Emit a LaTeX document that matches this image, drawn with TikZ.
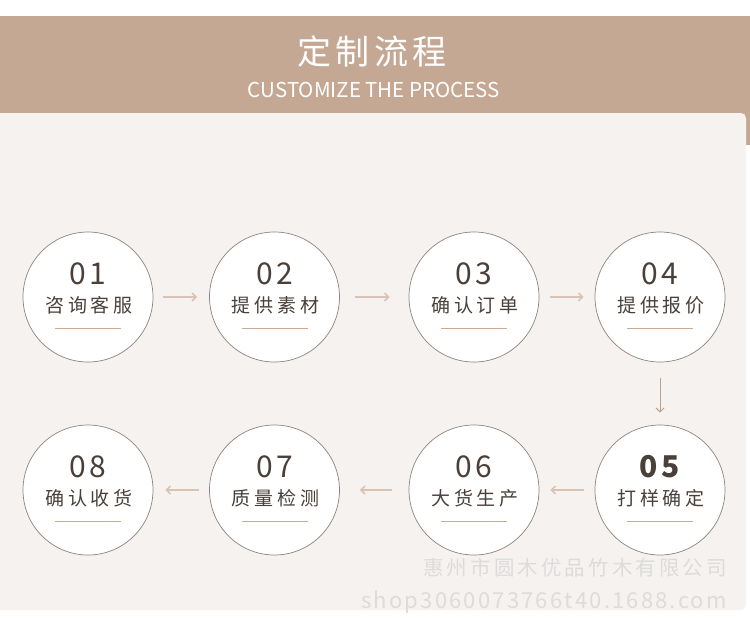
\documentclass[tikz,border=0pt]{standalone}
\usepackage{fontspec}
\setmainfont{Noto Sans CJK SC}
\usetikzlibrary{arrows.meta}
\definecolor{hdr}{HTML}{C4A893}
\definecolor{panel}{HTML}{F6F2EF}
\definecolor{ring}{HTML}{8C8480}
\definecolor{txt}{HTML}{4A4039}
\definecolor{uline}{HTML}{CBAA90}
\definecolor{harr}{HTML}{D8C3B4}
\definecolor{varr}{HTML}{BBA08D}
\definecolor{wm}{HTML}{DCDCDC}
\tikzset{
  stepcircle/.style={circle, draw=ring, line width=0.7pt, fill=white, minimum size=130pt, inner sep=0pt},
  numtxt/.style={text=txt, font=\fontsize{30}{30}\selectfont\addfontfeature{LetterSpace=12}, inner sep=0pt},
  labtxt/.style={text=txt, font=\fontsize{19}{19}\selectfont\addfontfeature{LetterSpace=20}, inner sep=0pt},
  harrow/.style={draw=harr, line width=2pt, -{Straight Barb[length=4pt,width=8pt,line width=1.6pt]}},
  varrow/.style={draw=varr, line width=1pt, -{Straight Barb[length=4pt,width=8pt,line width=1pt]}},
}
\begin{document}
\begin{tikzpicture}[x=1pt,y=-1pt]
\useasboundingbox (0,0) rectangle (750,633);
\fill[white] (0,0) rectangle (750,633);
\fill[hdr] (0,16) rectangle (750,145);
\fill[panel, rounded corners=5pt] (-10,113) rectangle (746,610);
\node[text=white, font=\fontsize{34}{34}\selectfont\addfontfeature{LetterSpace=12}, inner sep=0pt] (title) at (372,52) {定制流程};
\node[text=white, font=\fontsize{20.5}{20.5}\selectfont, inner sep=0pt] (subtitle) at (374,90) {CUSTOMIZE THE PROCESS};
% circles
\foreach \i/\x/\y/\n/\t in {1/88/297/01/咨询客服, 2/274.5/297/02/提供素材, 3/474/297/03/确认订单, 4/660/297/04/提供报价,
  6/474/490/06/大货生产, 7/274.5/490/07/质量检测, 8/88/490/08/确认收货}{
  \node[stepcircle] (c\i) at (\x,\y) {};
  \node[numtxt] (n\i) at (\x,\y-23) {\n};
  \node[labtxt] (l\i) at (\x+1,\y+8) {\t};
  \draw[uline, line width=1pt] ([xshift=-33pt,yshift=-31pt]c\i.center) coordinate (ua\i) -- ([xshift=33pt,yshift=-31pt]c\i.center) coordinate (ub\i);
}
\node[stepcircle] (c5) at (660,490) {};
\node[numtxt, font=\fontsize{30}{30}\selectfont\bfseries\addfontfeature{LetterSpace=12}] (n5) at (660,467) {05};
\node[labtxt] (l5) at (661,498) {打样确定};
\draw[uline, line width=1pt] ([xshift=-33pt,yshift=-31pt]c5.center) coordinate (ua5) -- ([xshift=33pt,yshift=-31pt]c5.center) coordinate (ub5);
% arrows
\draw[harrow, shorten <=10pt, shorten >=12pt] (c1) -- (c2);
\draw[harrow, shorten <=15pt, shorten >=19pt] (c2) -- (c3);
\draw[harrow, shorten <=11pt, shorten >=11pt] (c3) -- (c4);
\draw[varrow, shorten <=16pt, shorten >=12pt] (c4) -- (c5);
\draw[harrow, shorten <=11pt, shorten >=11pt] (c5) -- (c6);
\draw[harrow, shorten <=17pt, shorten >=20pt] (c6) -- (c7);
\draw[harrow, shorten <=10pt, shorten >=12pt] (c7) -- (c8);
% watermark
\node[text=wm, anchor=east, font=\fontsize{20.5}{20.5}\selectfont\addfontfeature{LetterSpace=15}, inner sep=0pt] (wm1) at (727,568) {惠州市圆木优品竹木有限公司};
\node[text=wm, anchor=east, font=\fontsize{22}{22}\selectfont\addfontfeature{LetterSpace=10}, inner sep=0pt] (wm2) at (727,602) {shop3060073766t40.1688.com};
\end{tikzpicture}
\end{document}
